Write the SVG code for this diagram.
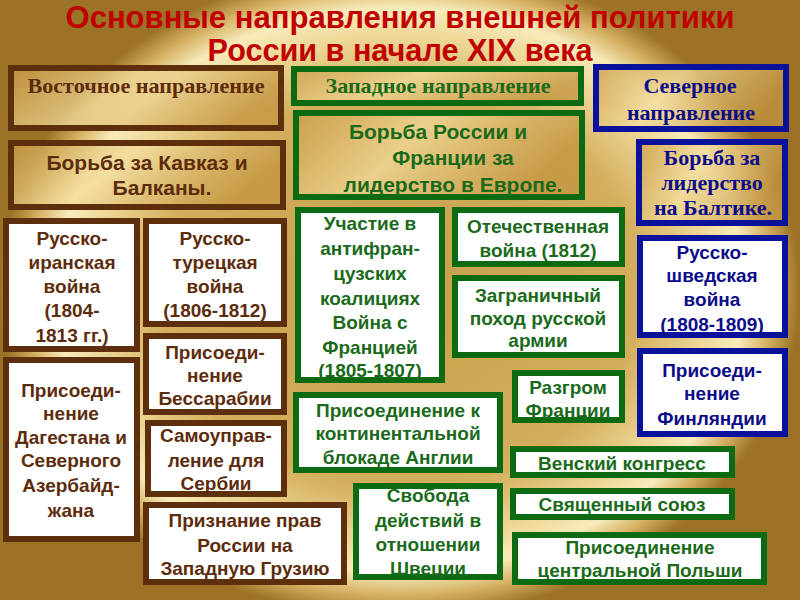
<svg xmlns="http://www.w3.org/2000/svg" width="800" height="600" viewBox="0 0 800 600">
<defs>
<radialGradient id="bg" gradientUnits="userSpaceOnUse" cx="400" cy="290" r="400" gradientTransform="translate(0,290) scale(1,0.82) translate(0,-290)">
<stop offset="0" stop-color="#c9a04c"/>
<stop offset="0.6" stop-color="#d3ae5c"/>
<stop offset="0.78" stop-color="#efd99a"/>
<stop offset="0.86" stop-color="#f8ebbb"/>
<stop offset="0.93" stop-color="#d6b265"/>
<stop offset="1" stop-color="#9c7226"/>
</radialGradient>
<linearGradient id="gold" x1="0" y1="0" x2="1" y2="0.3">
<stop offset="0" stop-color="#c89a44" stop-opacity="0.75"/>
<stop offset="0.45" stop-color="#f3dc9c" stop-opacity="0.75"/>
<stop offset="1" stop-color="#c39540" stop-opacity="0.75"/>
</linearGradient>
<style>
.t{font-family:"Liberation Sans",Arial,sans-serif;font-weight:bold;text-anchor:middle}
.s{font-family:"Liberation Serif","Times New Roman",serif;font-weight:bold;text-anchor:middle;font-size:22px}
.f19{font-size:19px}
.f21{font-size:21px}
.title{font-size:31px;fill:#c00000}
.br{fill:#5c2c0c}
.gr{fill:#1b6a1b}
.bl{fill:#0c0c88}
.hb{fill:url(#gold);stroke:#5e2f0d;stroke-width:6}
.hg{fill:url(#gold);stroke:#0c6b12;stroke-width:6}
.hl{fill:url(#gold);stroke:#0a129c;stroke-width:6}
.wb{fill:#fff;stroke:#5e2f0d;stroke-width:6}
.wg{fill:#fff;stroke:#0c6b12;stroke-width:6}
.wl{fill:#fff;stroke:#0a129c;stroke-width:6}
</style>
</defs>
<rect width="800" height="600" fill="url(#bg)"/>
<g id="title" class="t title">
<text x="400" y="28" textLength="669" lengthAdjust="spacingAndGlyphs">Основные направления внешней политики</text>
<text x="400" y="61" textLength="385" lengthAdjust="spacingAndGlyphs">России в начале XIX века</text>
</g>
<g id="connectors"/>
<g id="east-header"><rect class="hb" x="11" y="68" width="270" height="60"/><text class="s br" x="146" y="93" textLength="237" lengthAdjust="spacingAndGlyphs">Восточное направление</text></g>
<g id="west-header"><rect class="hg" x="294" y="69" width="287" height="34"/><text class="s gr" x="438" y="93" textLength="225" lengthAdjust="spacingAndGlyphs">Западное направление</text></g>
<g id="north-header"><rect class="hl" x="596" y="67" width="190" height="62"/><text class="s bl" x="690" y="93">Северное</text><text class="s bl" x="691" y="120">направление</text></g>
<g id="caucasus"><rect class="hb" x="11" y="143" width="272" height="64"/><text class="t f21 br" x="147" y="170">Борьба за Кавказ и</text><text class="t f21 br" x="162" y="195">Балканы.</text></g>
<g id="europe"><rect class="hg" x="296" y="113" width="286" height="84"/><text class="t f21 gr" x="438" y="139">Борьба России и</text><text class="t f21 gr" x="453" y="165">Франции за</text><text class="t f21 gr" x="453" y="192">лидерство в Европе.</text></g>
<g id="baltic"><rect class="hl" x="639" y="142" width="146" height="81"/><text class="s bl" x="712" y="165">Борьба за</text><text class="s bl" x="712" y="190">лидерство</text><text class="s bl" x="713" y="215">на Балтике.</text></g>
<g id="ru-iran" class="t f19 br"><rect class="wb" x="6" y="221" width="131" height="128"/><text x="72" y="245">Русско-</text><text x="72" y="269">иранская</text><text x="72" y="293">война</text><text x="72" y="317">(1804-</text><text x="72" y="342">1813 гг.)</text></g>
<g id="ru-turk" class="t f19 br"><rect class="wb" x="146" y="221" width="138" height="103"/><text x="215" y="245">Русско-</text><text x="215" y="269">турецкая</text><text x="215" y="293">война</text><text x="215" y="317">(1806-1812)</text></g>
<g id="dagestan" class="t f19 br"><rect class="wb" x="6" y="360" width="131" height="179"/><text x="71" y="397">Присоеди-</text><text x="71" y="420">нение</text><text x="71" y="444">Дагестана и</text><text x="71" y="467">Северного</text><text x="71" y="492">Азербайд-</text><text x="71" y="517">жана</text></g>
<g id="bessarabia" class="t f19 br"><rect class="wb" x="146" y="336" width="138" height="76"/><text x="215" y="359">Присоеди-</text><text x="215" y="382">нение</text><text x="215" y="405">Бессарабии</text></g>
<g id="serbia" class="t f19 br"><rect class="wb" x="148" y="423" width="136" height="71"/><text x="216" y="442">Самоуправ-</text><text x="216" y="467">ление для</text><text x="216" y="490">Сербии</text></g>
<g id="georgia" class="t f19 br"><rect class="wb" x="146" y="505" width="198" height="77"/><text x="245" y="527">Признание прав</text><text x="245" y="552">России на</text><text x="245" y="575">Западную Грузию</text></g>
<g id="coalitions" class="t f19 gr"><rect class="wg" x="298" y="210" width="144" height="170"/><text x="370" y="230">Участие в</text><text x="370" y="255">антифран-</text><text x="370" y="280">цузских</text><text x="370" y="305">коалициях</text><text x="370" y="329">Война с</text><text x="370" y="354">Францией</text><text x="370" y="377">(1805-1807)</text></g>
<g id="patriotic" class="t f19 gr"><rect class="wg" x="455" y="210" width="167" height="54"/><text x="538" y="233">Отечественная</text><text x="538" y="257">война (1812)</text></g>
<g id="campaign" class="t f19 gr"><rect class="wg" x="455" y="278" width="167" height="77"/><text x="538" y="302">Заграничный</text><text x="538" y="325">поход русской</text><text x="538" y="347">армии</text></g>
<g id="ru-swed" class="t f19 bl"><rect class="wl" x="640" y="238" width="145" height="97"/><text x="712" y="259">Русско-</text><text x="712" y="282">шведская</text><text x="712" y="306">война</text><text x="712" y="331">(1808-1809)</text></g>
<g id="finland" class="t f19 bl"><rect class="wl" x="640" y="351" width="145" height="83"/><text x="712" y="377">Присоеди-</text><text x="712" y="400">нение</text><text x="712" y="425">Финляндии</text></g>
<g id="defeat" class="t f19 gr"><rect class="wg" x="515" y="373" width="107" height="47"/><text x="568" y="394">Разгром</text><text x="568" y="417">Франции</text></g>
<g id="blockade" class="t f19 gr"><rect class="wg" x="296" y="395" width="204" height="75"/><text x="398" y="417">Присоединение к</text><text x="398" y="440">континентальной</text><text x="398" y="464">блокаде Англии</text></g>
<g id="vienna" class="t f19 gr"><rect class="wg" x="513" y="449" width="219" height="26"/><text x="622" y="470">Венский конгресс</text></g>
<g id="holy" class="t f19 gr"><rect class="wg" x="513" y="491" width="219" height="26"/><text x="622" y="511">Священный союз</text></g>
<g id="poland" class="t f19 gr"><rect class="wg" x="515" y="535" width="249" height="47"/><text x="640" y="554">Присоединение</text><text x="640" y="577">центральной Польши</text></g>
<g id="sweden" class="t f19 gr"><rect class="wg" x="356" y="486" width="144" height="91"/><text x="428" y="502">Свобода</text><text x="428" y="527">действий в</text><text x="428" y="551">отношении</text><text x="428" y="575">Швеции</text></g>
</svg>
